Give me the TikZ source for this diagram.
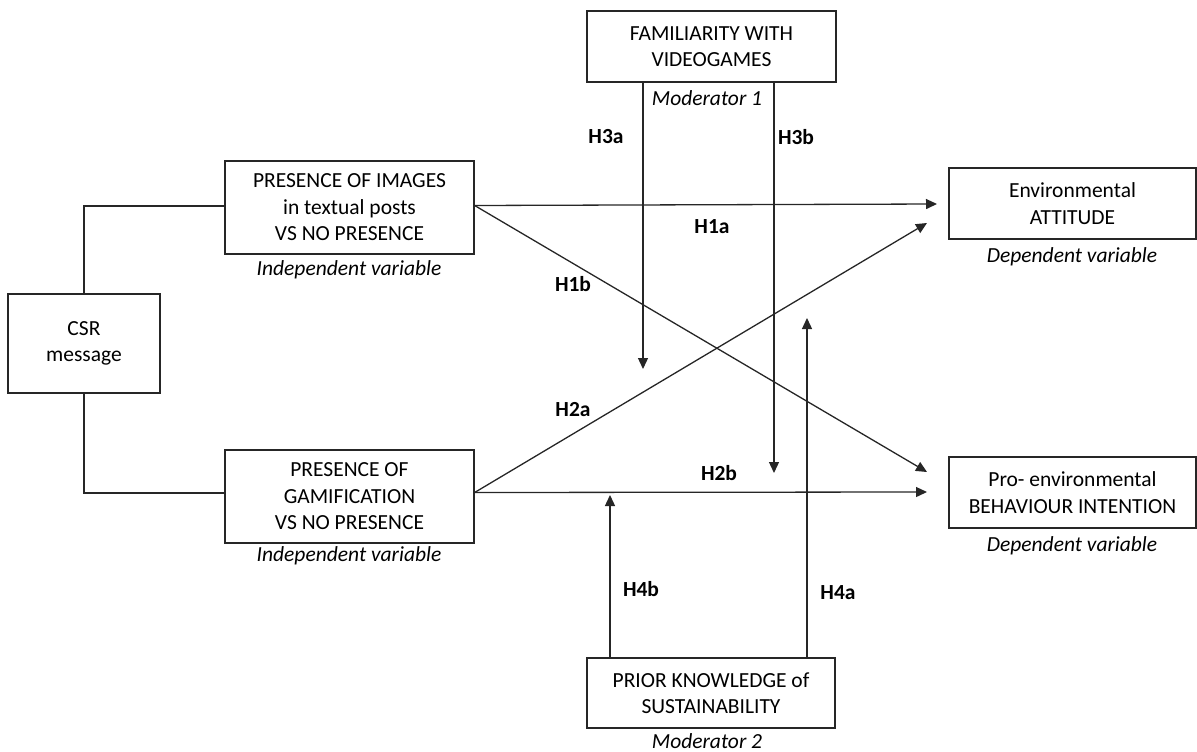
\documentclass[tikz,border=0pt]{standalone}
\usepackage{fontspec}
\setmainfont{Carlito}
\usetikzlibrary{arrows.meta,calc}
\begin{document}
\begin{tikzpicture}[x=1pt,y=-1pt,
  box/.style={draw=black!85, line width=1.3pt, inner sep=0pt, align=center,
    font=\fontsize{21.5}{26.5}\selectfont},
  lbl/.style={inner sep=0pt, font=\fontsize{21.5}{26.5}\selectfont\itshape},
  hyp/.style={inner sep=0pt, font=\fontsize{21.5}{26.5}\selectfont\bfseries},
  conn/.style={draw=black!85, line width=1.3pt},
  arr/.style={conn, -{Triangle[length=11pt,width=10pt]}}]
\useasboundingbox (0,0) rectangle (1197,752);

% boxes
\node[box, minimum width=152pt, minimum height=99pt] (csr) at (84,343.5) {CSR\\message};
\node[box, minimum width=249pt, minimum height=93pt] (img) at (349.5,207.5) {PRESENCE OF IMAGES\\in textual posts\\VS NO PRESENCE};
\node[box, minimum width=249pt, minimum height=93pt] (gam) at (349.5,496.5) {PRESENCE OF\\GAMIFICATION\\VS NO PRESENCE};
\node[box, minimum width=249pt, minimum height=71pt] (fam) at (711.5,46.5) {FAMILIARITY WITH\\VIDEOGAMES};
\node[box, minimum width=247pt, minimum height=71pt] (env) at (1072.5,203.5) {Environmental\\ATTITUDE};
\node[box, minimum width=247pt, minimum height=71pt] (pro) at (1072.5,492.5) {Pro- environmental\\BEHAVIOUR INTENTION};
\node[box, minimum width=248pt, minimum height=70pt] (pri) at (711,693) {PRIOR KNOWLEDGE of\\SUSTAINABILITY};

% captions
\node[lbl] (l1) at (349,270) {Independent variable};
\node[lbl] (l2) at (349,556) {Independent variable};
\node[lbl] (l3) at (1072,257) {Dependent variable};
\node[lbl] (l4) at (1072,546) {Dependent variable};
\node[lbl] (l5) at (707,98) {Moderator 1};
\node[lbl] (l6) at (707,741) {Moderator 2};

% hypothesis labels
\node[hyp] (h3a) at (606,137) {H3a};
\node[hyp] (h3b) at (796,137) {H3b};
\node[hyp] (h1a) at (712,227) {H1a};
\node[hyp] (h1b) at (573,284) {H1b};
\node[hyp] (h2a) at (573,410) {H2a};
\node[hyp] (h2b) at (719,473) {H2b};
\node[hyp] (h4b) at (641,589) {H4b};
\node[hyp] (h4a) at (838,593) {H4a};

% end coordinates
\coordinate (e1a) at (937,204);
\coordinate (e2a) at (927,223);
\coordinate (e1b) at (927,472);
\coordinate (e2b) at (927,492);
\coordinate (e3a) at (643,369);
\coordinate (e3b) at (774,473);
\coordinate (e4b) at (610,495);
\coordinate (e4a) at (807,318);

% CSR connectors
\draw[conn] (csr.north) |- ($(img.west)+(0,-1.5)$);
\draw[conn] (csr.south) |- ($(gam.west)+(0,-3.5)$);

% main effects
\draw[arr] ($(img.east)+(0,-2)$) -- (e1a);
\draw[arr] ($(img.east)+(0,-2)$) -- (e1b);
\draw[arr] ($(gam.east)+(0,-4)$) -- (e2a);
\draw[arr] ($(gam.east)+(0,-4)$) -- (e2b);

% moderators
\draw[arr] (fam.south -| e3a) -- (e3a);
\draw[arr] (fam.south -| e3b) -- (e3b);
\draw[arr] (pri.north -| e4b) -- (e4b);
\draw[arr] (pri.north -| e4a) -- (e4a);
\end{tikzpicture}
\end{document}
